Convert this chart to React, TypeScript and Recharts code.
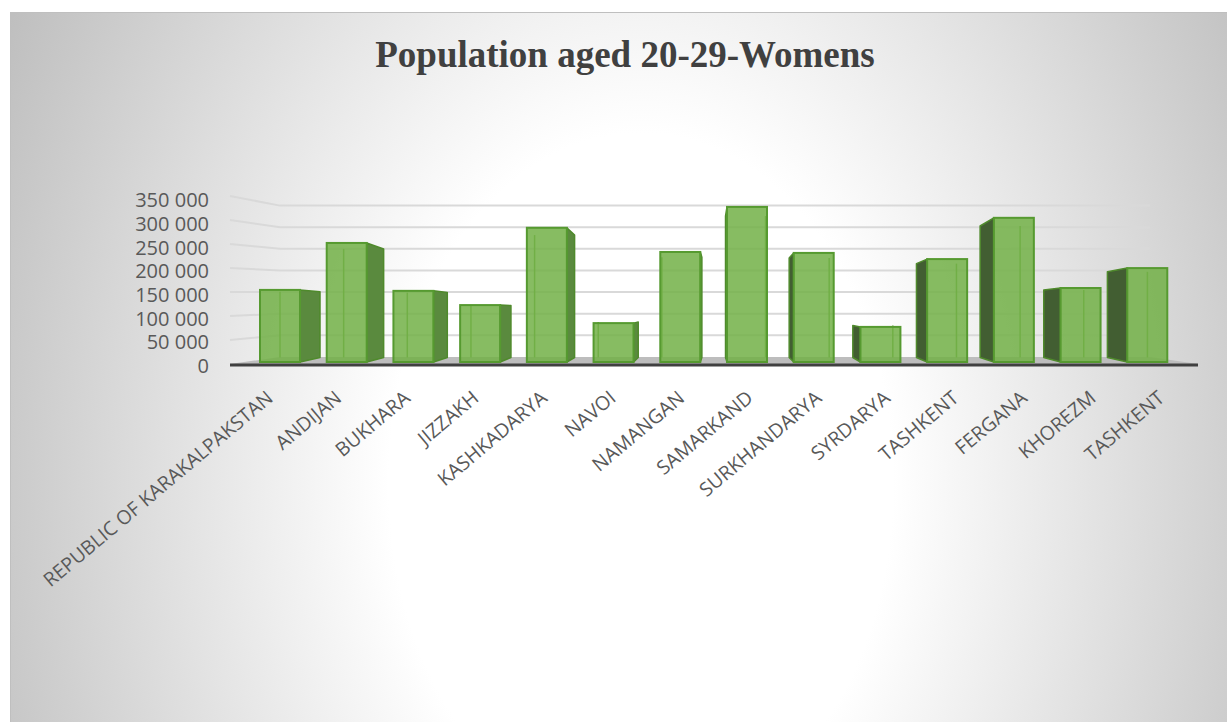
import { BarChart, Bar, XAxis, YAxis, CartesianGrid } from "recharts"

// Population aged 20-29, women, by region
const regions = [
  "REPUBLIC OF KARAKALPAKSTAN",
  "ANDIJAN",
  "BUKHARA",
  "JIZZAKH",
  "KASHKADARYA",
  "NAVOI",
  "NAMANGAN",
  "SAMARKAND",
  "SURKHANDARYA",
  "SYRDARYA",
  "TASHKENT",
  "FERGANA",
  "KHOREZM",
  "TASHKENT",
]
const women = [152000, 251000, 150000, 120000, 283000, 82000, 232000, 327000, 230000, 74000, 217000, 304000, 156000, 198000]
const yTicks = [0, 50000, 100000, 150000, 200000, 250000, 300000, 350000]

const data = regions.map((region, i) => ({ region, women: women[i] }))

// fake 3d: the bar floor and the back wall sit a little above the tick labels
const VANISH_X = 715
const DEPTH = 0.046
const FLOOR_LIFT = 4
const WALL_LIFT = 9
const WALL_RATIO = 0.912 // back wall scale vs front scale
const SIDE_RATIO = 1.012 // left wall front edge scale

const fmt = (v: number) => String(v).replace(/\B(?=(\d{3})+(?!\d))/g, " ")

function GridLine(props: any) {
  const { x1, x2, y1, key, y, height } = props
  const bottom = y + height
  const wall = 50
  const back = bottom - WALL_LIFT - (bottom - y1) * WALL_RATIO
  const front = bottom - 2 - (bottom - y1) * SIDE_RATIO
  if (Math.abs(y1 - bottom) < 1) {
    return (
      <g key={key}>
        <polygon
          points={`${x1},${bottom - 2} ${x1 + wall},${back} ${x2 - 48},${back} ${x2},${bottom - 2}`}
          fill="#bdbdbd"
        />
        <line x1={x1} y1={bottom - 1} x2={x2} y2={bottom - 1} stroke="#404040" strokeWidth={3} />
      </g>
    )
  }
  return (
    <polyline
      key={key}
      points={`${x1},${front} ${x1 + wall},${back} ${x2 - 48},${back}`}
      fill="none"
      stroke="#d9d9d9"
      strokeWidth={2}
    />
  )
}

function Bar3D(props: any) {
  const { x, width } = props
  if (!props.height || props.height <= 0) return <g />
  const y = props.y - FLOOR_LIFT
  const height = props.height
  const bottom = y + height
  const dx = (VANISH_X - (x + width / 2)) * DEPTH
  const backBottom = bottom - 4.5
  const backTop = backBottom - height * WALL_RATIO
  const edge = dx > 0 ? x + width : x
  const innerX = dx > 0 ? x + dx : x + width + dx
  return (
    <g>
      <polygon
        points={`${edge},${y} ${edge + dx},${backTop} ${edge + dx},${backBottom} ${edge},${bottom}`}
        fill={dx > 0 ? "#5a8a3e" : "#425e32"}
        stroke="#4f8a2c"
        strokeWidth={1.5}
        strokeLinejoin="round"
      />
      <line x1={innerX} y1={backTop} x2={innerX} y2={backBottom} stroke="#6aa842" strokeWidth={1.5} />
      <rect
        x={x}
        y={y}
        width={width}
        height={height}
        fill="#72b046"
        fillOpacity={0.85}
        stroke="#569a30"
        strokeWidth={2}
      />
    </g>
  )
}

function RegionTick(props: any) {
  const { x, y, payload } = props
  return (
    <text
      x={x + 2}
      y={y}
      transform={`rotate(-40, ${x + 2}, ${y})`}
      textAnchor="end"
      fill="#595959"
      fontSize={19.5}
      fontFamily="'Open Sans', sans-serif"
    >
      {payload.value}
    </text>
  )
}

export default function App() {
  return (
    <div style={{ position: "fixed", left: 0, top: 0, width: 1227, height: 722, overflow: "hidden", background: "#fff" }}>
      <div
        style={{
          position: "absolute",
          left: 10,
          top: 12,
          width: 1230,
          height: 800,
          borderTop: "1px solid #bfbfbf",
          borderLeft: "1px solid #bfbfbf",
          background: "radial-gradient(ellipse 720px 1000px at 630px 470px, #ffffff 35%, #bebebe 100%)",
        }}
      />
      <div
        style={{
          position: "absolute",
          left: 10,
          top: 33,
          width: 1230,
          textAlign: "center",
          fontFamily: "'Liberation Serif', serif",
          fontWeight: "bold",
          fontSize: 37,
          color: "#404040",
        }}
      >
        Population aged 20-29-Womens
      </div>
      <div style={{ position: "absolute", left: 0, top: 0 }}>
        <BarChart width={1227} height={722} data={data} margin={{ top: 200, right: 29, bottom: 0, left: 0 }}>
          <CartesianGrid xAxisId="bars" yAxisId="labels" vertical={false} horizontal={GridLine} />
          <XAxis xAxisId="bars" dataKey="region" hide padding={{ left: 17, right: 17 }} />
          <XAxis
            xAxisId="labels"
            dataKey="region"
            interval={0}
            axisLine={false}
            tickLine={false}
            tickSize={0}
            tickMargin={4}
            height={356}
            padding={{ left: 8, right: 0 }}
            tick={<RegionTick />}
          />
          <YAxis
            yAxisId="labels"
            domain={[0, 350000]}
            ticks={yTicks}
            interval={0}
            width={230}
            axisLine={false}
            tickLine={false}
            tickSize={0}
            tickMargin={21}
            tickFormatter={fmt}
            tick={{ fill: "#595959", fontSize: 20, fontFamily: "'Open Sans', sans-serif" }}
          />
          <Bar
            dataKey="women"
            xAxisId="bars"
            yAxisId="labels"
            barSize={40}
            shape={<Bar3D />}
            isAnimationActive={false}
          />
        </BarChart>
      </div>
    </div>
  )
}
